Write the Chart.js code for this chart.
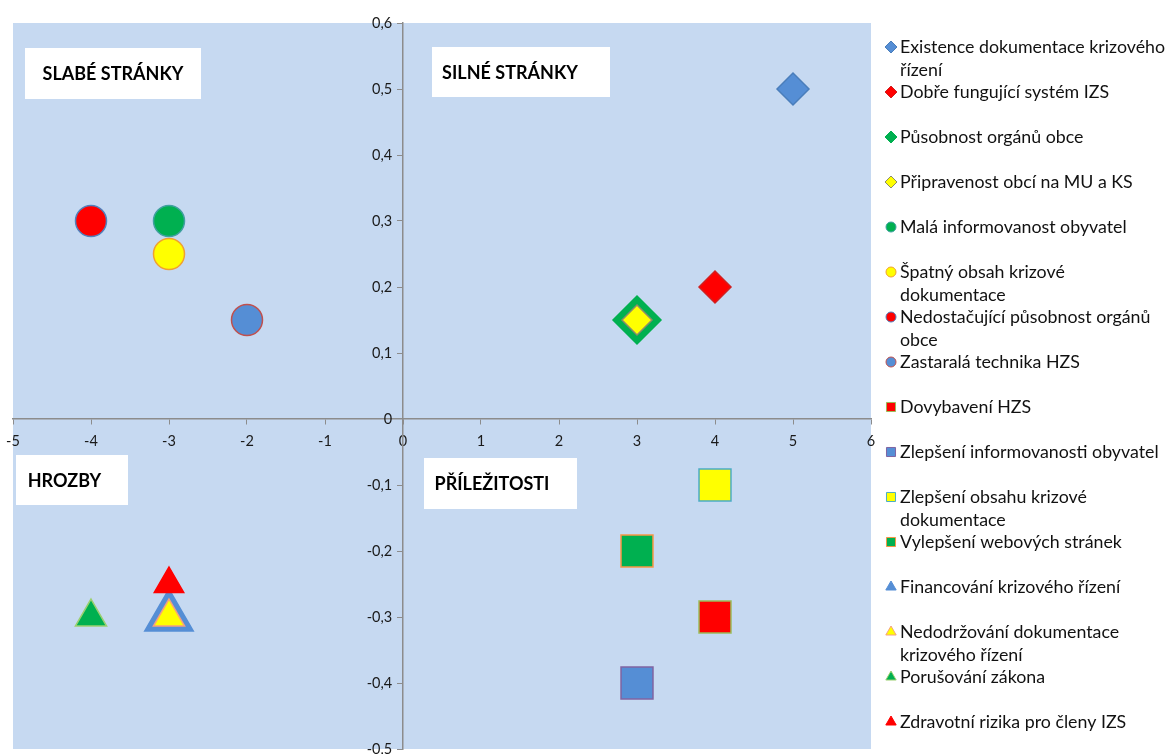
<!DOCTYPE html>
<html>
<head>
<meta charset="utf-8">
<script src="https://cdn.jsdelivr.net/npm/chart.js@4/dist/chart.umd.min.js"></script>
<style>
  html, body { margin: 0; padding: 0; background: #fff; }
  #wrap { width: 1169px; height: 754px; position: relative; }
</style>
</head>
<body>
<div id="wrap"><canvas id="swotChart"></canvas></div>
<script>
// SWOT data (strengths = diamonds, weaknesses = circles, opportunities = squares, threats = triangles)
const seriesNames = [
  'Existence dokumentace krizového\nřízení',
  'Dobře fungující systém IZS',
  'Působnost orgánů obce',
  'Připravenost obcí na MU a KS',
  'Malá informovanost obyvatel',
  'Špatný obsah krizové\ndokumentace',
  'Nedostačující působnost orgánů\nobce',
  'Zastaralá technika HZS',
  'Dovybavení HZS',
  'Zlepšení informovanosti obyvatel',
  'Zlepšení obsahu krizové\ndokumentace',
  'Vylepšení webových stránek',
  'Financování krizového řízení',
  'Nedodržování dokumentace\nkrizového řízení',
  'Porušování zákona',
  'Zdravotní rizika pro členy IZS'
];
const xValues = [5, 4, 3, 3, -3, -3, -4, -2, 4, 3, 4, 3, -3, -3, -4, -3];
const yValues = [0.5, 0.2, 0.15, 0.15, 0.3, 0.25, 0.3, 0.15, -0.3, -0.4, -0.1, -0.2, -0.3, -0.3, -0.3, -0.25];

const xTicks = [-5, -4, -3, -2, -1, 0, 1, 2, 3, 4, 5, 6];
const yTicks = [-0.5, -0.4, -0.3, -0.2, -0.1, 0, 0.1, 0.2, 0.3, 0.4, 0.5, 0.6];

const quadrantLabels = ['SLABÉ STRÁNKY', 'SILNÉ STRÁNKY', 'HROZBY', 'PŘÍLEŽITOSTI'];

// marker look per series
const shapes = ['rectRot', 'rectRot', 'rectRot', 'rectRot', 'circle', 'circle', 'circle', 'circle',
  'rect', 'rect', 'rect', 'rect', 'triangle', 'triangle', 'triangle', 'triangle'];
const fills = ['#558ed5', '#ff0000', '#00b050', '#ffff00', '#00b050', '#ffff00', '#ff0000', '#558ed5',
  '#ff0000', '#558ed5', '#ffff00', '#00b050', '#558ed5', '#ffff00', '#00b050', '#ff0000'];
const borders = ['#4a7ebb', '#d02020', '#00b050', '#8c8c6a', '#40a0a0', '#f0a030', '#4f81bd', '#c0504d',
  '#9bbb59', '#8064a2', '#4bacc6', '#f79646', '#558ed5', '#f4a080', '#9bd070', '#ff0000'];
const radii = [16, 16, 24, 15, 15.5, 15.5, 15.5, 15.5, 22.6, 22.6, 22.6, 22.6, 28, 18, 18, 17];
const legendRadii = [6, 6, 6, 6, 5, 5, 5, 5, 6.4, 6.4, 6.4, 6.4, 6, 6, 6, 6];

const fmtComma = v => v === 0 ? '0' : v.toFixed(1).replace('.', ',');

const datasets = seriesNames.map((name, i) => ({
  label: name,
  data: [{ x: xValues[i], y: yValues[i] }],
  pointStyle: shapes[i],
  pointRadius: radii[i],
  pointBackgroundColor: fills[i],
  pointBorderColor: borders[i],
  pointBorderWidth: 1.5,
  order: seriesNames.length - i
}));

const plotBackground = {
  id: 'plotBackground',
  beforeDraw(chart) {
    const { ctx, chartArea: a } = chart;
    ctx.save();
    ctx.fillStyle = '#c6d9f1';
    ctx.fillRect(a.left, a.top, a.right - a.left, a.bottom - a.top);
    // quadrant captions: box x, y, w, h and text shift
    const boxes = [[25, 48, 176, 51, 0], [432, 47, 178, 50, -11], [16, 455, 112, 50, -7.5], [424, 458, 153, 51, -8.5]];
    ctx.font = 'bold 18px Lato';
    ctx.textBaseline = 'middle';
    ctx.textAlign = 'center';
    boxes.forEach((b, i) => {
      ctx.fillStyle = '#fff';
      ctx.fillRect(b[0], b[1], b[2], b[3]);
      ctx.fillStyle = '#000';
      ctx.fillText(quadrantLabels[i], b[0] + b[2] / 2 + b[4], b[1] + b[3] / 2 + 1);
    });
    ctx.restore();
  }
};

const sideLegend = {
  id: 'sideLegend',
  afterDraw(chart) {
    const ctx = chart.ctx;
    ctx.save();
    ctx.font = '17.8px Lato';
    ctx.textBaseline = 'middle';
    ctx.textAlign = 'left';
    chart.data.datasets.forEach((ds, i) => {
      const y = 47 + 45 * i;
      ctx.fillStyle = ds.pointBackgroundColor;
      ctx.strokeStyle = ds.pointBorderColor;
      ctx.lineWidth = 1;
      Chart.helpers.drawPoint(ctx, { pointStyle: ds.pointStyle, radius: legendRadii[i], borderWidth: 1, rotation: 0 }, 891, y);
      ctx.fillStyle = '#111';
      ds.label.split('\n').forEach((line, k) => ctx.fillText(line, 900, y + 23 * k));
    });
    ctx.restore();
  }
};

// centred axes: take no room in the layout
const noRoom = scale => {
  scale.paddingLeft = scale.paddingRight = scale.paddingTop = scale.paddingBottom = 0;
  if (scale.isHorizontal()) scale.height = 0; else scale.width = 0;
};

new Chart(document.getElementById('swotChart'), {
  type: 'scatter',
  data: { datasets },
  options: {
    responsive: true,
    maintainAspectRatio: false,
    animation: false,
    layout: { autoPadding: false, padding: { left: 13, top: 23, right: 298, bottom: 5 } },
    plugins: { legend: { display: false }, tooltip: { enabled: false } },
    scales: {
      x: {
        type: 'linear',
        min: -5, max: 6,
        position: { y: 0 },
        afterFit: noRoom,
        afterBuildTicks: s => { s.ticks = xTicks.map(v => ({ value: v })); },
        grid: { drawOnChartArea: false, drawTicks: true, tickLength: 5, color: '#8c8c8c' },
        border: { color: '#8c8c8c', width: 1.5 },
        ticks: { color: '#1a1a1a', font: { family: 'Lato', size: 14.5 }, padding: 9, maxRotation: 0, callback: v => String(v) }
      },
      y: {
        type: 'linear',
        min: -0.5, max: 0.6,
        position: { x: 0 },
        afterFit: noRoom,
        afterBuildTicks: s => { s.ticks = yTicks.map(v => ({ value: v })); },
        grid: { drawOnChartArea: false, drawTicks: true, tickLength: 5, color: '#8c8c8c' },
        border: { color: '#8c8c8c', width: 1.5 },
        // labels of an axis placed by value sit right on the line, so pad them with an em space
        ticks: { color: '#1a1a1a', font: { family: 'Lato', size: 14.5 }, callback: v => fmtComma(v) + '\u2003' }
      }
    }
  },
  plugins: [plotBackground, sideLegend]
});
</script>
</body>
</html>
